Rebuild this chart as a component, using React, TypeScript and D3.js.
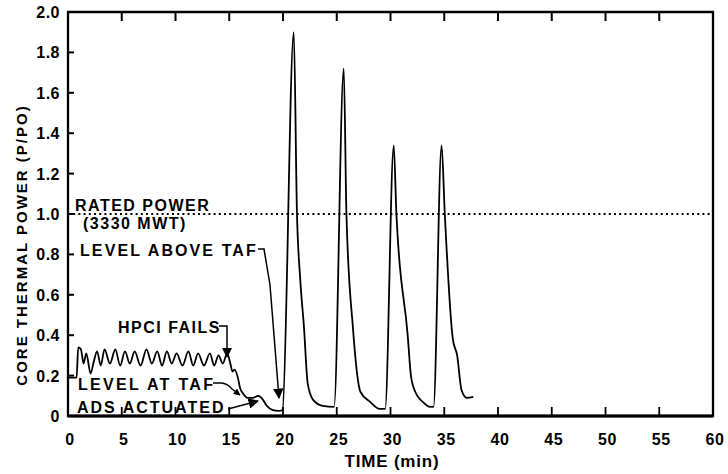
import React from "react";
import * as d3 from "d3";

// ---- data ----
const timeMin: number[] = [
  0, 0.8, 0.95, 1.2, 1.45, 1.7, 2.1, 2.4,
  2.7, 3.05, 3.4, 3.9, 4.4, 4.85, 5.3, 5.75, 6.2, 6.75, 7.3, 7.8, 8.3, 8.75, 9.2, 9.65,
  10.1, 10.65, 11.2, 11.65, 12.1, 12.65, 13.2, 13.6, 14.0, 14.4, 14.8,
  15.1, 15.3, 15.5, 15.8, 16.0, 16.3, 16.7, 17.2, 17.7, 18.0, 18.5, 19.0, 19.6, 19.95,
  21.0, 21.3, 21.6, 21.95, 22.3, 22.8, 23.7, 24.75,
  25.65, 25.9, 26.5, 27.2, 28.1, 29.0, 29.5,
  30.3, 30.55, 31.6, 31.9, 32.3, 33.0, 33.7, 34.0,
  34.75, 35.05, 35.8, 36.2, 36.6, 37.1, 37.7,
];
const powerRatio: number[] = [
  0.19, 0.19, 0.34, 0.33, 0.26, 0.31, 0.21, 0.27,
  0.32, 0.25, 0.33, 0.26, 0.33, 0.25, 0.32, 0.26, 0.32, 0.25, 0.33, 0.26, 0.32, 0.25, 0.32, 0.26,
  0.31, 0.25, 0.32, 0.25, 0.31, 0.25, 0.31, 0.25, 0.30, 0.26, 0.31,
  0.26, 0.22, 0.23, 0.19, 0.14, 0.11, 0.09, 0.09, 0.10, 0.09, 0.05, 0.03, 0.025, 0.03,
  1.9, 1.0, 0.68, 0.44, 0.16, 0.08, 0.05, 0.045,
  1.72, 1.0, 0.44, 0.12, 0.07, 0.035, 0.035,
  1.34, 1.0, 0.4, 0.2, 0.12, 0.07, 0.045, 0.045,
  1.34, 1.0, 0.38, 0.3, 0.13, 0.09, 0.095,
];
const xTicks: number[] = [0, 5, 10, 15, 20, 25, 30, 35, 40, 45, 50, 55, 60];
const xTickLabels: string[] = ["0", "5", "10", "15", "20", "25", "30", "35", "40", "45", "50", "55", "60"];
const yTicks: number[] = [0, 0.2, 0.4, 0.6, 0.8, 1.0, 1.2, 1.4, 1.6, 1.8, 2.0];
const yTickLabels: string[] = ["0", "0.2", "0.4", "0.6", "0.8", "1.0", "1.2", "1.4", "1.6", "1.8", "2.0"];
const ratedPower = 1.0;

const FONT = "'Liberation Sans', Arial, Helvetica, sans-serif";

export default function App() {
  const W = 728, H = 474;
  const x = d3.scaleLinear().domain([0, 60]).range([68, 713]);
  const y = d3.scaleLinear().domain([0, 2]).range([416, 12]);
  const pts: [number, number][] = timeMin.map((t, i) => [t, powerRatio[i]]);
  const line = d3
    .line<[number, number]>()
    .x((d) => x(d[0]))
    .y((d) => y(d[1]))
    .curve(d3.curveMonotoneX);

  const txt = {
    fontFamily: FONT,
    fontWeight: 700 as const,
    fontSize: 16,
    letterSpacing: 1.5,
    fill: "#000",
  };

  return (
    <svg
      width={W}
      height={H}
      viewBox={`0 0 ${W} ${H}`}
      style={{ position: "absolute", left: 0, top: 0, background: "#fff" }}
    >
      <defs>
        <marker id="ah" viewBox="0 0 10 10" refX="9" refY="5" markerWidth="7" markerHeight="7" orient="auto">
          <path d="M0,0 L10,5 L0,10 Z" fill="#000" />
        </marker>
        <marker id="ahs" viewBox="0 0 10 10" refX="9" refY="5" markerWidth="5" markerHeight="5" orient="auto">
          <path d="M0,0 L10,5 L0,10 Z" fill="#000" />
        </marker>
      </defs>

      {/* rated power dotted line */}
      <line
        x1={x(0)}
        x2={x(60)}
        y1={y(ratedPower)}
        y2={y(ratedPower)}
        stroke="#000"
        strokeWidth={1.8}
        strokeDasharray="2,3.2"
      />

      {/* data curve */}
      <path d={line(pts) || ""} fill="none" stroke="#000" strokeWidth={1.8} strokeLinejoin="round" />

      {/* frame */}
      <path
        d={`M${x(0)},${y(2)} H${x(60)} V${y(0)} H${x(0)} Z`}
        fill="none"
        stroke="#000"
        strokeWidth={2.3}
      />
      <line x1={x(0)} x2={x(60)} y1={y(0)} y2={y(0)} stroke="#000" strokeWidth={2.8} />

      {/* ticks */}
      {yTicks.slice(1, -1).map((v) => (
        <line key={"yt" + v} x1={x(0)} x2={x(0) + 6} y1={y(v)} y2={y(v)} stroke="#000" strokeWidth={2} />
      ))}
      {xTicks.slice(1, -1).map((t) => (
        <g key={"xt" + t}>
          <line x1={x(t)} x2={x(t)} y1={y(2)} y2={y(2) + 9} stroke="#000" strokeWidth={2} />
          <line x1={x(t)} x2={x(t)} y1={y(0)} y2={y(0) - 9} stroke="#000" strokeWidth={1.8} />
        </g>
      ))}

      {/* tick labels */}
      {yTicks.map((v, i) => (
        <text key={"yl" + v} x={60} y={y(v) + 6} textAnchor="end" {...txt} letterSpacing={0.5}>
          {yTickLabels[i]}
        </text>
      ))}
      {xTicks.map((t, i) => (
        <text key={"xl" + t} x={x(t) + 2} y={445} textAnchor="middle" {...txt} letterSpacing={0.5}>
          {xTickLabels[i]}
        </text>
      ))}

      {/* axis titles */}
      <text x={392} y={467} textAnchor="middle" {...txt} fontSize={17} letterSpacing={0.8}>
        TIME (min)
      </text>
      <text
        transform="translate(27,245) rotate(-90)"
        textAnchor="middle"
        {...txt}
        fontSize={15}
        letterSpacing={2}
      >
        CORE THERMAL POWER (P/PO)
      </text>

      {/* annotations */}
      <text x={75} y={211} {...txt}>RATED POWER</text>
      <text x={83} y={229} {...txt}>(3330 MWT)</text>

      <text x={80} y={256} {...txt} letterSpacing={2.1}>LEVEL ABOVE TAF</text>
      <path d="M258,249 L264,249 L270,285 L279,398" fill="none" stroke="#000" strokeWidth={1.5} markerEnd="url(#ah)" />

      <text x={118} y={333} {...txt}>HPCI FAILS</text>
      <path d="M219,326 L227,326 L227,357" fill="none" stroke="#000" strokeWidth={1.5} markerEnd="url(#ah)" />

      <text x={78} y={390} {...txt} letterSpacing={2.3}>LEVEL AT TAF</text>
      <path d="M213,383 L222,383 Q228,384 232,389 L240,395" fill="none" stroke="#000" strokeWidth={1.4} markerEnd="url(#ahs)" />

      <text x={77} y={413} {...txt} letterSpacing={2}>ADS ACTUATED</text>
      <path d="M228,409 L258,401" fill="none" stroke="#000" strokeWidth={1.5} markerEnd="url(#ah)" />
    </svg>
  );
}
